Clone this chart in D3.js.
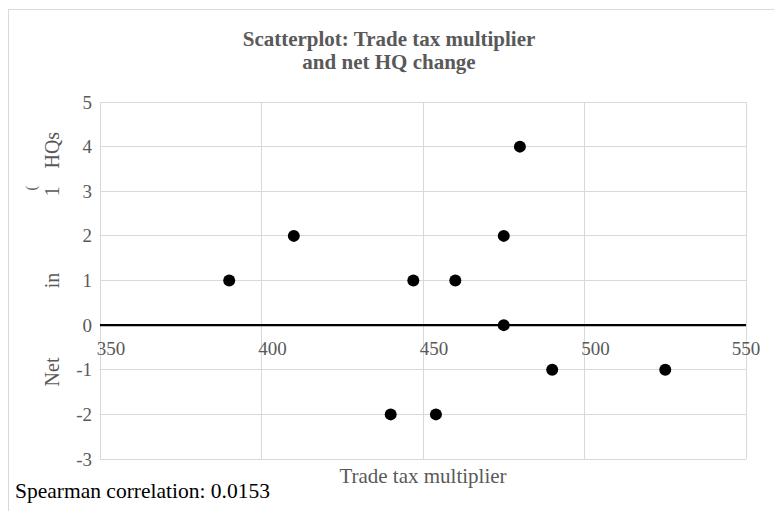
<!DOCTYPE html>
<html><head><meta charset="utf-8">
<script src="https://cdn.jsdelivr.net/npm/d3@7"></script>
<style>body{margin:0;background:#fff}svg{display:block}text{font-family:"Liberation Serif","Times New Roman",serif}</style>
</head><body><svg id="c" width="774" height="511"></svg>
<script>
const xValues = [390, 410, 447, 460, 475, 480, 475, 440, 454, 490, 525];
const yValues = [1, 2, 1, 1, 2, 4, 0, -2, -2, -1, -1];
const xTicks = [350, 400, 450, 500, 550];
const yTicks = [-3, -2, -1, 0, 1, 2, 3, 4, 5];
const titleLines = ["Scatterplot: Trade tax multiplier", "and net HQ change"];
const xTitle = "Trade tax multiplier";
const yTitleParts = [["Net", -1.05], ["in", 1], ["1", 3], ["HQs", 3.92]];
const note = "Spearman correlation: 0.0153";

const svg = d3.select("#c");
const m = {l: 100, r: 746, t: 102, b: 459};
svg.append("rect").attr("x", 8.5).attr("y", 9.5).attr("width", 780).attr("height", 520)
  .attr("fill", "#fff").attr("stroke", "#d9d9d9");

const x = d3.scaleLinear().domain([350, 550]).range([m.l, m.r]);
const y = d3.scaleLinear().domain([-3, 5]).range([m.b, m.t]);

const g = svg.append("g");
g.selectAll(".vg").data(xTicks).join("line")
  .attr("x1", d => x(d)).attr("x2", d => x(d)).attr("y1", m.t).attr("y2", m.b)
  .attr("stroke", "#d9d9d9").attr("stroke-width", 1).attr("shape-rendering", "crispEdges");
g.selectAll(".hg").data(yTicks).join("line")
  .attr("x1", m.l).attr("x2", m.r).attr("y1", d => y(d)).attr("y2", d => y(d))
  .attr("stroke", "#d9d9d9").attr("stroke-width", 1).attr("shape-rendering", "crispEdges");
g.append("line").attr("x1", m.l).attr("x2", m.r).attr("y1", y(0)).attr("y2", y(0))
  .attr("stroke", "#000").attr("stroke-width", 2.2);

g.selectAll(".yl").data(yTicks).join("text")
  .attr("x", m.l - 8).attr("y", d => y(d) + 6.5).attr("text-anchor", "end")
  .attr("font-size", 19).attr("fill", "#595959").text(d => d);
g.selectAll(".xl").data(xTicks).join("text")
  .attr("x", d => Math.min(x(d) + 11, m.r)).attr("y", y(0) + 30).attr("text-anchor", "middle")
  .attr("font-size", 19).attr("fill", "#595959").text(d => d);

g.selectAll("circle").data(xValues.map((v, i) => [v, yValues[i]])).join("circle")
  .attr("cx", d => x(d[0])).attr("cy", d => y(d[1])).attr("r", 6).attr("fill", "#000");

svg.append("text").attr("x", 389).attr("y", 46).attr("text-anchor", "middle")
  .attr("font-size", 21).attr("font-weight", "bold").attr("fill", "#595959")
  .selectAll("tspan").data(titleLines).join("tspan")
  .attr("x", 389).attr("dy", (d, i) => i ? 23 : 0).text(d => d);

svg.append("text").attr("x", 423).attr("y", 483).attr("text-anchor", "middle")
  .attr("font-size", 21).attr("fill", "#595959").text(xTitle);

yTitleParts.forEach(([t, lv]) => {
  svg.append("text").attr("transform", `translate(59,${y(lv)}) rotate(-90)`)
    .attr("text-anchor", "middle").attr("font-size", 20).attr("fill", "#595959").text(t);
});
svg.append("text").attr("transform", `translate(36,${y(3) - 3}) rotate(-90)`)
  .attr("text-anchor", "middle").attr("font-size", 14).attr("fill", "#595959").text("(");

svg.append("text").attr("x", 15).attr("y", 498).attr("font-size", 21.5).attr("fill", "#000").text(note);
</script></body></html>
